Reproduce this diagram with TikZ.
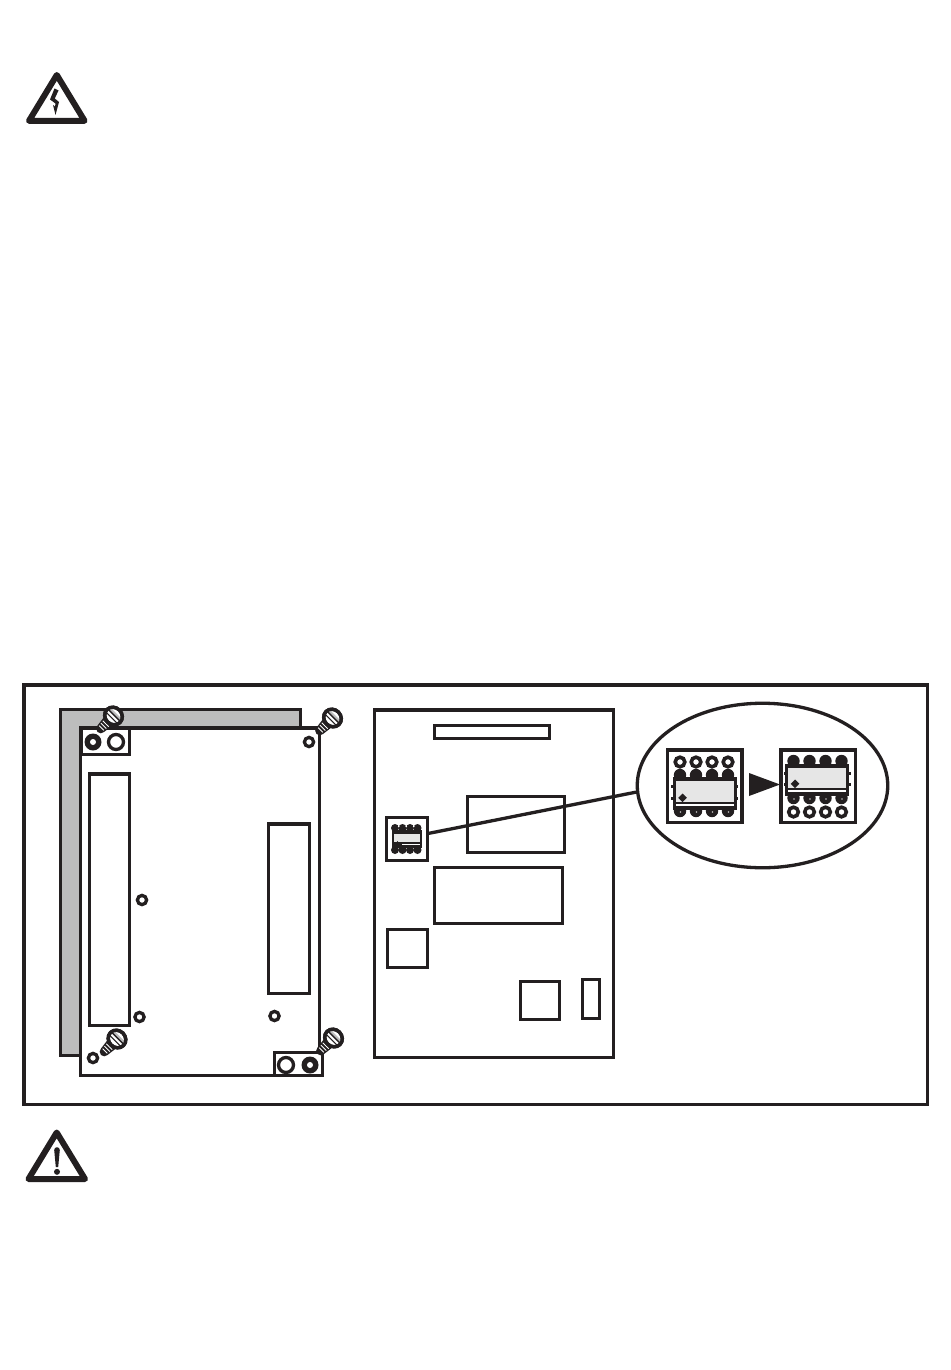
\documentclass[tikz,border=0pt]{standalone}
\usetikzlibrary{shapes.geometric}
\definecolor{ink}{HTML}{231F20}
\definecolor{plate}{HTML}{BDBDBD}
\definecolor{chipfill}{HTML}{E6E6E6}
\tikzset{
  line/.style={draw=ink,line width=3.3pt},
  thinbox/.style={draw=ink,line width=3.3pt,fill=white},
  hole/.style={draw=ink,line width=3.3pt,fill=white},
  warn/.style={draw=ink,line width=6pt,line join=round,fill=white},
}
% screw: head centre, shank points along local +x
\newcommand{\screw}[3]{%
  \begin{scope}[shift={(#1,#2)},rotate=#3]
    \fill[ink] (7,-6) -- (18,-4.6) arc[start angle=-90,end angle=90,radius=4.6] -- (7,6) -- cycle;
    \draw[white,line width=.9pt] (11,-4.2) -- (11,4.2) (14,-3.8) -- (14,3.8) (17,-3.2) -- (17,3.2);
    \draw[draw=ink,line width=3.4pt,fill=white] (0,0) ellipse[x radius=8.4,y radius=9.2];
    \fill[plate] (-3.8,-8) rectangle (-1.5,8);
    \draw[ink,line width=1.5pt] (-1,-8) -- (-1,8);
    \draw[ink,line width=1pt] (2.6,-7.8) -- (2.6,7.8);
    \draw[draw=ink,line width=3.4pt] (0,0) ellipse[x radius=8.4,y radius=9.2];
  \end{scope}}
% chip with pins
\newcommand{\dilchip}[9]{%
  \draw[line,line width=3.8pt,fill=white] (#1,#2) rectangle ++(74.5,72.5);
  \foreach \k in {0,1,2,3}{
    \draw[hole,line width=3.6pt] (#8+\k*16,#3) circle[radius=4.8];
    \fill[ink] (#8+\k*16,#4) circle[radius=6.2];
    \fill[ink] (#8+\k*16,#5) circle[radius=6.2];
    \fill[white!70!ink] (#8+\k*16+.5,#5+1) circle[radius=.9];
  }
  \fill[ink] (#9-3,#6-2.5) rectangle (#9+61,#7+2);
  \fill[ink] (#9-4.5,#7-11) rectangle (#9+62.5,#7-8.5);
  \fill[ink] (#9-4.5,#6+6) rectangle (#9+62.5,#6+8.5);
  \fill[chipfill] (#9,#6+1.5) rectangle (#9+58,#7-6.5);
  \fill[white] (#9,#7-3.8) rectangle (#9+58,#7-1.8);
  \fill[ink] (#9+7,#7-14.5) -- ++(4.3,4.3) -- ++(-4.3,4.3) -- ++(-4.3,-4.3) -- cycle;
}
\begin{document}
\begin{tikzpicture}[x=1pt,y=-1pt]
\useasboundingbox (0,0) rectangle (950,1370);
\fill[white] (0,0) rectangle (950,1370);

% warning triangles
\draw[warn] (56.8,75) -- (29,120.8) -- (84.6,120.8) -- cycle;
\fill[ink] (54.5,88.5) -- (58.5,90.5) -- (54.8,98.5) -- (59,102) -- (55.5,115) -- (53,105) -- (55,106.5) -- (55.5,103.5) -- (50,99.5) -- cycle;
\draw[warn] (56.7,1132.5) -- (28.5,1179) -- (85,1179) -- cycle;
\fill[ink] (54.2,1150) arc[start angle=180,end angle=360,radius=2.8] -- (58.2,1167) -- (55.8,1167) -- cycle;
\fill[ink] (57,1171.8) circle[radius=3];

% frame
\draw[line] (24,685) rectangle (927.7,1104.7);

% left assembly
\draw[line,fill=plate] (60.3,709.6) rectangle (300.6,1055.7);
\draw[thinbox] (80.5,728) rectangle (319.7,1075.7);
\draw[thinbox] (81,728.3) rectangle (129.2,754.7);
\fill[ink] (93,742) circle[radius=8.5];
\fill[white] (93,742) circle[radius=3];
\draw[hole] (116,742) circle[radius=7.5];
\draw[line] (89.2,774.1) rectangle (129.6,1025.7);
\draw[line] (268.2,824.1) rectangle (309.6,993.7);
\draw[hole] (309,742) circle[radius=4.6];
\draw[hole] (142,900) circle[radius=4.6];
\draw[hole] (139.5,1017) circle[radius=4.6];
\draw[hole] (274.5,1016) circle[radius=4.6];
\draw[hole] (93,1058) circle[radius=4.6];
\draw[thinbox] (274.3,1052.3) rectangle (322.3,1075.8);
\draw[hole] (286,1065) circle[radius=7.5];
\fill[ink] (310,1065) circle[radius=8.5];
\fill[white] (310,1065) circle[radius=3];
\screw{113.5}{716}{225}
\screw{332.5}{718}{225}
\screw{117}{1039}{225}
\screw{333.5}{1038}{225}

% board
\draw[line] (374.3,710.1) rectangle (613.7,1057.7);
\draw[line] (434.3,725.3) rectangle (549.7,738.7);
\draw[line] (467.3,796.3) rectangle (564.7,852.7);
\draw[line] (434.3,867.3) rectangle (562.7,923.7);
\draw[line] (387.3,929.3) rectangle (427.7,967.7);
\draw[line] (520.3,981.3) rectangle (559.7,1019.7);
\draw[line] (582.3,979.3) rectangle (599.7,1018.7);

% small chip
\node[line,fill=white,minimum width=41pt,minimum height=43pt,inner sep=0pt] (minichip) at (407,839) {};
\foreach \px in {395,402.5,410,417.5}{
  \fill[ink] (\px,828) circle[radius=4];
  \fill[ink] (\px,850) circle[radius=4];
}
\foreach \px in {398.7,406.2,413.7}{
  \fill[white] (\px,826.5) circle[radius=.9];
}
\fill[ink] (391.5,830) rectangle (421.5,848);
\fill[chipfill] (393.5,834) rectangle (419.5,842);
\fill[white] (402,843.5) rectangle (419.5,845);
\fill[ink] (394,846) -- (397.5,841) -- (401,846) -- cycle;

% magnified view
\node[draw=ink,line width=3.3pt,fill=white,ellipse,minimum width=250.5pt,minimum height=164.5pt,inner sep=0pt] (zoomoval) at (762.5,785.5) {};
\coordinate (leadstart) at (428,833.5);
\draw[line] (leadstart) -- (zoomoval.183);

\dilchip{667.5}{750}{762}{775}{811}{779}{808}{680}{675.5}
\dilchip{781}{750}{812}{761}{798}{766}{794}{793.5}{788}
\fill[ink] (749,773) -- (780,784.5) -- (749,796) -- cycle;
\end{tikzpicture}
\end{document}
